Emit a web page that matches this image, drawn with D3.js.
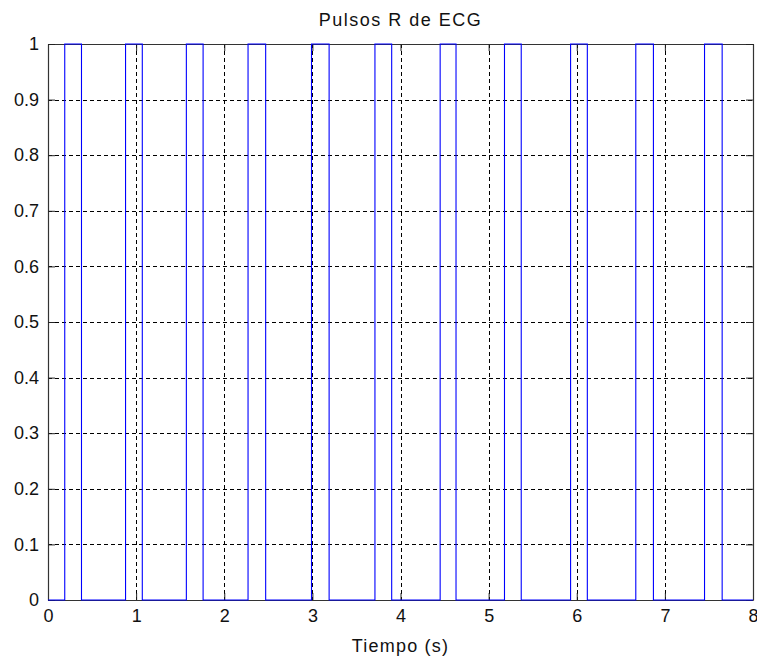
<!DOCTYPE html>
<html>
<head>
<meta charset="utf-8">
<script src="https://cdn.jsdelivr.net/npm/d3@7"></script>
<style>
  html, body { margin: 0; padding: 0; background: #fff; }
  svg { display: block; font-family: "Liberation Sans", Arial, sans-serif; }
</style>
</head>
<body>
<svg id="chart" width="757" height="661"></svg>
<script>
// R-pulse onset and offset times (s)
const pulseOn  = [0.19, 0.88, 1.57, 2.27, 2.99, 3.71, 4.45, 5.18, 5.93, 6.67, 7.45];
const pulseOff = [0.38, 1.07, 1.76, 2.47, 3.19, 3.90, 4.63, 5.37, 6.12, 6.87, 7.65];
const xTicks = [0, 1, 2, 3, 4, 5, 6, 7, 8];
const yTicks = [0, 0.1, 0.2, 0.3, 0.4, 0.5, 0.6, 0.7, 0.8, 0.9, 1];
const titleText = "Pulsos R de ECG";
const xLabel = "Tiempo (s)";

(function () {
  const svg = d3.select("#chart");
  const plotL = 48, plotR = 753, plotT = 44, plotB = 600;
  const fontSize = 18;

  const x = d3.scaleLinear().domain([0, 8]).range([plotL, plotR]);
  const y = d3.scaleLinear().domain([0, 1]).range([plotB, plotT]);

  // dashed grid
  const grid = svg.append("g").attr("stroke", "#000").attr("stroke-width", 1)
    .attr("stroke-dasharray", "4,3").attr("shape-rendering", "crispEdges");
  grid.selectAll("line.v").data(xTicks.slice(1, -1)).join("line")
    .attr("x1", d => Math.round(x(d)) + 0.5).attr("x2", d => Math.round(x(d)) + 0.5)
    .attr("y1", plotT).attr("y2", plotB);
  grid.selectAll("line.h").data(yTicks.slice(1, -1)).join("line")
    .attr("y1", d => Math.round(y(d)) + 0.5).attr("y2", d => Math.round(y(d)) + 0.5)
    .attr("x1", plotL).attr("x2", plotR);

  // axes with inward ticks on all four sides
  const tickLen = 7;
  const fmtY = d => d === 0 || d === 1 ? String(d) : d3.format(".1f")(d);
  const axB = svg.append("g").attr("transform", `translate(0,${plotB})`)
    .call(d3.axisBottom(x).tickValues(xTicks).tickSizeInner(-tickLen).tickSizeOuter(0).tickPadding(9).tickFormat(d3.format("d")));
  const axT = svg.append("g").attr("transform", `translate(0,${plotT})`)
    .call(d3.axisTop(x).tickValues(xTicks).tickSizeInner(-tickLen).tickSizeOuter(0).tickFormat(""));
  const axL = svg.append("g").attr("transform", `translate(${plotL},0)`)
    .call(d3.axisLeft(y).tickValues(yTicks).tickSizeInner(-tickLen).tickSizeOuter(0).tickPadding(9).tickFormat(fmtY));
  const axR = svg.append("g").attr("transform", `translate(${plotR},0)`)
    .call(d3.axisRight(y).tickValues(yTicks).tickSizeInner(-tickLen).tickSizeOuter(0).tickFormat(""));

  [axB, axT, axL, axR].forEach(a => {
    a.select(".domain").attr("stroke", "#333").attr("stroke-width", 1.2);
    a.selectAll(".tick line").attr("stroke", "#222");
    a.selectAll("text").attr("font-size", fontSize).attr("fill", "#111")
      .attr("font-family", "'Liberation Sans', Arial, sans-serif");
  });

  // pulse train as a step signal
  const pts = [[0, 0]];
  pulseOn.forEach((t, i) => { pts.push([t, 1]); pts.push([pulseOff[i], 0]); });
  pts.push([8, 0]);
  const line = d3.line().x(d => x(d[0])).y(d => y(d[1])).curve(d3.curveStepAfter);
  svg.append("path").datum(pts).attr("d", line)
    .attr("fill", "none").attr("stroke", "#0000ff").attr("stroke-width", 1.1);

  // title and axis label
  svg.append("text").attr("x", (plotL + plotR) / 2).attr("y", 26).attr("text-anchor", "middle")
    .attr("font-size", fontSize).attr("letter-spacing", 1.5).attr("fill", "#111").text(titleText);
  svg.append("text").attr("x", (plotL + plotR) / 2).attr("y", 652).attr("text-anchor", "middle")
    .attr("font-size", fontSize).attr("letter-spacing", 1.2).attr("fill", "#111").text(xLabel);
})();
</script>
</body>
</html>
